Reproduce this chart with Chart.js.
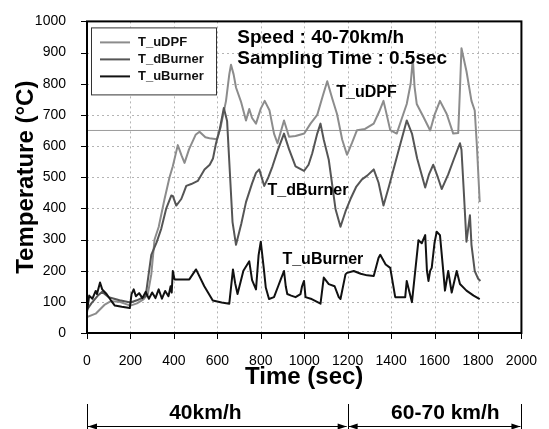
<!DOCTYPE html>
<html>
<head>
<meta charset="utf-8">
<script src="https://cdn.jsdelivr.net/npm/chart.js@4"></script>
<style>
html, body { margin: 0; padding: 0; background: #fff; }
#wrap { width: 549px; height: 429px; }
</style>
</head>
<body>
<div id="wrap"><canvas id="tempChart" width="549" height="429"></canvas></div>
<script>
// Series (time in sec, temperature in degC)
const seriesNames = ['T_uDPF', 'T_dBurner', 'T_uBurner'];
const seriesColors = ['#8c8c8c', '#555555', '#111111'];

const uDPFTime = [0, 40, 80, 110, 150, 200, 230, 260, 280, 296, 311, 330, 357, 380, 395, 418, 435, 449, 470, 500, 518, 545, 564, 598, 615, 640, 655, 663, 675, 686, 710, 732, 747, 760, 778, 800, 818, 840, 861, 877, 907, 930, 960, 1000, 1029, 1060, 1085, 1106, 1130, 1151, 1175, 1197, 1220, 1243, 1280, 1320, 1345, 1365, 1380, 1396, 1426, 1450, 1472, 1490, 1500, 1508, 1518, 1549, 1580, 1600, 1625, 1656, 1686, 1709, 1718, 1724, 1747, 1770, 1785, 1795, 1808];
const uDPFTemp = [51, 62, 90, 102, 100, 88, 95, 108, 125, 188, 300, 340, 430, 500, 535, 603, 570, 546, 590, 636, 646, 628, 625, 622, 660, 745, 830, 861, 830, 788, 740, 682, 719, 690, 672, 720, 745, 715, 640, 609, 682, 630, 632, 640, 672, 700, 760, 808, 750, 703, 620, 572, 610, 651, 655, 672, 710, 745, 700, 651, 640, 690, 735, 800, 880, 790, 735, 693, 650, 700, 745, 703, 640, 642, 800, 914, 840, 745, 714, 600, 420];

const dBurnerTime = [0, 20, 50, 70, 100, 150, 200, 230, 270, 296, 320, 342, 365, 388, 395, 411, 434, 445, 457, 480, 510, 541, 565, 580, 594, 610, 630, 645, 670, 686, 710, 732, 760, 778, 793, 816, 835, 854, 880, 907, 930, 960, 999, 1020, 1037, 1060, 1075, 1090, 1113, 1144, 1167, 1190, 1213, 1240, 1266, 1290, 1320, 1342, 1365, 1390, 1411, 1440, 1472, 1496, 1520, 1557, 1575, 1594, 1615, 1633, 1663, 1690, 1717, 1724, 1735, 1747, 1763, 1770, 1785, 1800, 1811];
const dBurnerTemp = [75, 95, 120, 132, 115, 105, 98, 105, 118, 251, 290, 335, 400, 441, 440, 409, 430, 450, 472, 478, 488, 525, 540, 560, 609, 650, 722, 680, 356, 283, 350, 420, 480, 514, 525, 472, 500, 535, 590, 640, 590, 535, 520, 540, 577, 640, 672, 620, 556, 398, 341, 390, 430, 470, 493, 505, 525, 483, 409, 470, 525, 600, 682, 640, 560, 467, 510, 540, 500, 462, 509, 560, 609, 588, 450, 293, 378, 283, 199, 175, 167];

const uBurnerTime = [0, 10, 25, 40, 46, 60, 70, 90, 110, 128, 160, 197, 205, 215, 225, 240, 255, 270, 285, 300, 315, 330, 345, 360, 375, 385, 390, 395, 403, 430, 471, 502, 540, 579, 620, 655, 672, 682, 693, 720, 747, 760, 778, 790, 800, 815, 823, 838, 861, 880, 892, 907, 915, 922, 940, 960, 983, 990, 999, 1006, 1030, 1075, 1090, 1113, 1140, 1159, 1167, 1190, 1197, 1228, 1260, 1290, 1320, 1342, 1350, 1375, 1396, 1419, 1465, 1472, 1496, 1526, 1541, 1557, 1565, 1572, 1580, 1587, 1600, 1610, 1625, 1640, 1648, 1663, 1679, 1702, 1717, 1747, 1780, 1808];
const uBurnerTemp = [67, 120, 110, 135, 125, 162, 140, 125, 105, 88, 84, 80, 125, 140, 118, 128, 112, 132, 110, 130, 112, 140, 110, 135, 118, 150, 130, 199, 172, 172, 172, 204, 150, 104, 98, 94, 204, 160, 125, 200, 230, 170, 140, 250, 293, 200, 146, 109, 115, 150, 172, 199, 150, 125, 120, 115, 125, 150, 167, 115, 110, 94, 178, 157, 150, 115, 109, 188, 193, 199, 190, 185, 183, 241, 251, 220, 209, 115, 115, 167, 99, 298, 288, 314, 200, 167, 200, 209, 290, 325, 314, 200, 136, 199, 130, 199, 157, 136, 120, 109];

// reference level line
const refLevel = 650;
const refTime = [0, 2000];

// text placed on the plot, in data units
const infoLines = ['Speed : 40-70km/h', 'Sampling Time : 0.5sec'];
const seriesLabelPos = [[1287, 773], [1017, 457], [1086, 237]];
const speedZones = [{ from: 0, to: 1200, label: '40km/h', at: 545 }, { from: 1200, to: 2000, label: '60-70 km/h', at: 1650 }];

function toPoints(t, v) {
    return t.map((tt, i) => ({ x: tt, y: v[i] }));
}

const fontFamily = '"Liberation Sans", Arial, sans-serif';

// dotted grid + tick marks, taken from the scales' own ticks
const dottedGrid = {
    id: 'dottedGrid',
    beforeDatasetsDraw(chart) {
        const { ctx, chartArea: a, scales: { x, y } } = chart;
        ctx.save();
        ctx.lineWidth = 1;
        ctx.strokeStyle = '#b4b4b4';
        ctx.setLineDash([2, 3]);
        x.ticks.forEach(t => {
            const px = Math.round(x.getPixelForValue(t.value)) + 0.5;
            ctx.beginPath();
            ctx.moveTo(px, a.top);
            ctx.lineTo(px, a.bottom);
            ctx.stroke();
        });
        y.ticks.forEach(t => {
            const py = Math.round(y.getPixelForValue(t.value)) + 0.5;
            ctx.beginPath();
            ctx.moveTo(a.left, py);
            ctx.lineTo(a.right, py);
            ctx.stroke();
        });
        ctx.setLineDash([]);
        ctx.strokeStyle = '#000';
        x.ticks.forEach(t => {
            const px = Math.round(x.getPixelForValue(t.value)) + 0.5;
            ctx.beginPath();
            ctx.moveTo(px, a.bottom);
            ctx.lineTo(px, a.bottom + 6);
            ctx.stroke();
        });
        y.ticks.forEach(t => {
            const py = Math.round(y.getPixelForValue(t.value)) + 0.5;
            ctx.beginPath();
            ctx.moveTo(a.left - 6, py);
            ctx.lineTo(a.left, py);
            ctx.stroke();
        });
        ctx.restore();
    }
};

// Draws frame, legend box, in-plot labels and the speed zone arrows
const annotate = {
    id: 'annotate',
    afterDraw(chart) {
        const { ctx, chartArea: a, scales: { x, y } } = chart;
        ctx.save();

        ctx.strokeStyle = '#000';
        ctx.lineWidth = 2;
        ctx.strokeRect(a.left, a.top, a.right - a.left, a.bottom - a.top);

        // legend
        const lx = a.left + 4, ly = a.top + 6;
        ctx.fillStyle = '#fff';
        ctx.fillRect(lx, ly, 125, 67);
        ctx.strokeStyle = '#333';
        ctx.lineWidth = 1;
        ctx.strokeRect(lx + 0.5, ly + 0.5, 125, 67);
        ctx.font = 'bold 13px ' + fontFamily;
        ctx.textBaseline = 'middle';
        ctx.textAlign = 'left';
        seriesNames.forEach((name, i) => {
            const yy = ly + 15 + i * 17;
            ctx.strokeStyle = seriesColors[i];
            ctx.lineWidth = 2;
            ctx.beginPath();
            ctx.moveTo(lx + 9, yy);
            ctx.lineTo(lx + 39, yy);
            ctx.stroke();
            ctx.fillStyle = '#111';
            ctx.fillText(name, lx + 47, yy);
        });

        // speed / sampling info
        ctx.fillStyle = '#000';
        ctx.font = 'bold 19px ' + fontFamily;
        ctx.fillText(infoLines[0], x.getPixelForValue(692), y.getPixelForValue(946));
        ctx.fillText(infoLines[1], x.getPixelForValue(692), y.getPixelForValue(880));

        // series labels
        ctx.font = 'bold 16px ' + fontFamily;
        ctx.textAlign = 'center';
        seriesNames.forEach((name, i) => {
            ctx.fillText(name, x.getPixelForValue(seriesLabelPos[i][0]), y.getPixelForValue(seriesLabelPos[i][1]));
        });

        // speed zones under the axis
        const arrowY = 426.5;
        ctx.strokeStyle = '#000';
        ctx.lineWidth = 1;
        [0, 1200, 2000].forEach(v => {
            const px = Math.round(x.getPixelForValue(v)) + 0.5;
            ctx.beginPath();
            ctx.moveTo(px, 404);
            ctx.lineTo(px, 429);
            ctx.stroke();
        });
        ctx.font = 'bold 21px ' + fontFamily;
        speedZones.forEach(z => {
            const x1 = x.getPixelForValue(z.from) + 1, x2 = x.getPixelForValue(z.to) - 1;
            ctx.beginPath();
            ctx.moveTo(x1, arrowY);
            ctx.lineTo(x2, arrowY);
            ctx.stroke();
            ctx.beginPath();
            ctx.moveTo(x1, arrowY);
            ctx.lineTo(x1 + 9, arrowY - 3);
            ctx.lineTo(x1 + 9, arrowY + 3);
            ctx.closePath();
            ctx.moveTo(x2, arrowY);
            ctx.lineTo(x2 - 9, arrowY - 3);
            ctx.lineTo(x2 - 9, arrowY + 3);
            ctx.closePath();
            ctx.fill();
            ctx.fillText(z.label, x.getPixelForValue(z.at), 413);
        });

        ctx.restore();
    }
};

const ctx = document.getElementById('tempChart').getContext('2d');
const tempChart = new Chart(ctx, {
    type: 'line',
    data: {
        datasets: [
            {
                label: seriesNames[2],
                data: toPoints(uBurnerTime, uBurnerTemp),
                borderColor: seriesColors[2],
                borderWidth: 2,
                order: 1
            },
            {
                label: seriesNames[1],
                data: toPoints(dBurnerTime, dBurnerTemp),
                borderColor: seriesColors[1],
                borderWidth: 2,
                order: 2
            },
            {
                label: seriesNames[0],
                data: toPoints(uDPFTime, uDPFTemp),
                borderColor: seriesColors[0],
                borderWidth: 2,
                order: 3
            },
            {
                label: 'level',
                data: toPoints(refTime, [refLevel, refLevel]),
                borderColor: '#9a9a9a',
                borderWidth: 1,
                order: 4
            }
        ]
    },
    options: {
        responsive: false,
        animation: false,
        events: [],
        elements: {
            point: { radius: 0 },
            line: { tension: 0, fill: false, borderJoinStyle: 'round' }
        },
        layout: { padding: { top: 16, right: 25, left: 0, bottom: 0 } },
        scales: {
            x: {
                type: 'linear',
                min: 0,
                max: 2000,
                afterFit(scale) { scale.height = 96; },
                ticks: {
                    stepSize: 200,
                    maxRotation: 0,
                    autoSkip: false,
                    padding: 12,
                    color: '#000',
                    callback: v => String(v),
                    font: { family: fontFamily, size: 14 }
                },
                grid: { display: false },
                border: { display: false },
                title: {
                    display: true,
                    text: 'Time (sec)',
                    color: '#000',
                    padding: { top: 0, bottom: 37 },
                    font: { family: fontFamily, size: 24, weight: 'bold' }
                }
            },
            y: {
                min: 0,
                max: 1000,
                afterFit(scale) { scale.width = 87; },
                ticks: {
                    stepSize: 100,
                    padding: 13,
                    color: '#000',
                    callback: v => String(v),
                    font: { family: fontFamily, size: 14 }
                },
                grid: { display: false },
                border: { display: false },
                title: {
                    display: true,
                    text: 'Temperature (°C)',
                    color: '#000',
                    padding: { top: 12, bottom: 0 },
                    font: { family: fontFamily, size: 24, weight: 'bold' }
                }
            }
        },
        plugins: {
            legend: { display: false },
            tooltip: { enabled: false }
        }
    },
    plugins: [dottedGrid, annotate]
});
</script>
</body>
</html>
